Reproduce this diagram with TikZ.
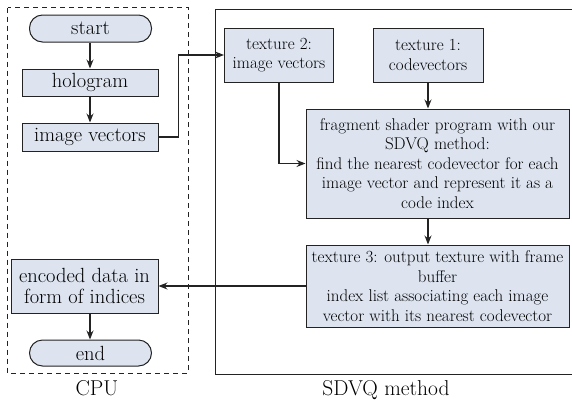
\documentclass[tikz,border=0pt]{standalone}
\usetikzlibrary{arrows.meta}
\definecolor{boxfill}{RGB}{221,228,240}
\definecolor{boxline}{RGB}{35,35,35}
\tikzset{
  box/.style={draw=boxline, fill=boxfill, line width=1pt, align=center, inner sep=1pt},
  bigtext/.style={font=\fontsize{20.5}{21.5}\selectfont},
  smalltext/.style={font=\fontsize{17}{19.5}\selectfont},
  term/.style={box, bigtext, rounded corners=13pt},
  arr/.style={line width=1.1pt, draw=boxline, -{Stealth[length=9pt,width=7pt,inset=3pt]}},
  frame/.style={line width=1pt, draw=boxline},
  caption/.style={font=\fontsize{21.5}{23}\selectfont},
}
\begin{document}
\begin{tikzpicture}[x=1pt, y=-1pt]
\useasboundingbox (0,0) rectangle (572,402);

% CPU side
\draw[frame, dashed, dash pattern=on 5pt off 4pt] (7.5,7.5) rectangle (188,373);
\node[caption] (cpulabel) at (97,388) {CPU};

\node[term, minimum width=122pt, minimum height=27pt] (start) at (90.5,28.5) {start};
\node[box, bigtext, minimum width=136pt, minimum height=27pt] (holo) at (90,82.5) {hologram};
\node[box, bigtext, minimum width=136pt, minimum height=28pt] (imgv) at (90,137) {image vectors};
\node[box, bigtext, minimum width=147pt, minimum height=54pt] (enc) at (84.5,286) {encoded data in\\form of indices};
\node[term, minimum width=122pt, minimum height=26pt] (endn) at (90.5,353) {end};

% SDVQ side
\draw[frame] (580,9) -- (215,9) -- (215,374) -- (580,374);
\node[caption] (sdvqlabel) at (386,390) {SDVQ method};

\node[box, smalltext, minimum width=109pt, minimum height=54pt] (tex2) at (279,55) {texture 2:\\image vectors};
\node[box, smalltext, minimum width=110pt, minimum height=54pt] (tex1) at (428,55) {texture 1:\\codevectors};
\node[box, smalltext, minimum width=263pt, minimum height=109pt] (frag) at (437.5,163.5)
  {fragment shader program with our\\SDVQ method:\\find the nearest codevector for each\\image vector and represent it as a\\code index};
\node[box, smalltext, minimum width=263pt, minimum height=82pt] (tex3) at (437.5,286)
  {texture 3: output texture with frame\\buffer\\index list associating each image\\vector with its nearest codevector};

% connectors
\draw[arr] (start.south -| holo) -- (holo);
\draw[arr] (holo) -- (imgv);
\draw[arr] (imgv.east) -- ++(20,0) |- (tex2.west);
\draw[arr] (tex2.south) |- (frag.west);
\draw[arr] (tex1.south) -- (tex1.south |- frag.north);
\draw[arr] (frag.south -| tex1.south) -- (tex3.north -| tex1.south);
\draw[arr] (tex3.west) -- (enc.east);
\draw[arr] (enc.south -| holo) -- (endn.north -| holo);
\end{tikzpicture}
\end{document}
